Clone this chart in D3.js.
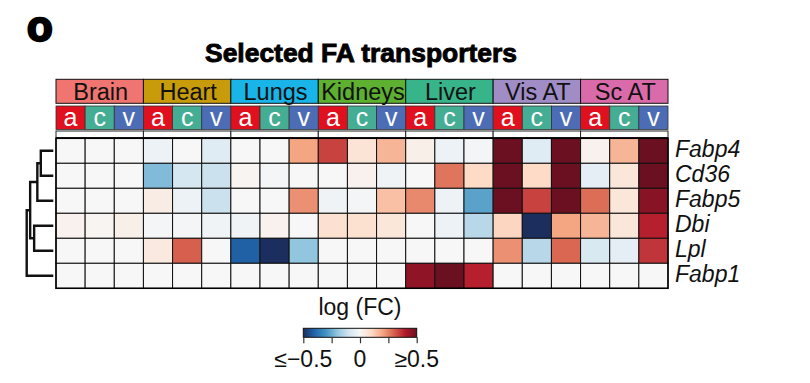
<!DOCTYPE html>
<html>
<head>
<meta charset="utf-8">
<script src="https://cdn.jsdelivr.net/npm/d3@7"></script>
<style>
  body { margin: 0; background: #fff; }
  text { font-family: "Liberation Sans", Arial, sans-serif; }
</style>
</head>
<body>
<div id="chart"></div>
<script>
// tissues, sampling sites and genes
var tissues = ["Brain", "Heart", "Lungs", "Kidneys", "Liver", "Vis AT", "Sc AT"];
var sites = ["a", "c", "v"];
var genes = ["Fabp4", "Cd36", "Fabp5", "Dbi", "Lpl", "Fabp1"];

// log(FC) per gene, 21 columns = tissue x site (a, c, v)
var fabp4 = [0, 0, 0, -0.03, 0, -0.06, 0, 0, 0.2, 0.34, 0.07, 0.17, 0.03, -0.03, -0.01, 0.5, -0.06, 0.5, 0.02, 0.17, 0.5];
var cd36  = [0, 0, 0, -0.22, -0.09, -0.11, 0.01, -0.01, 0, 0, 0.02, -0.02, 0, 0.27, 0.1, 0.5, 0.1, 0.5, -0.05, 0.06, 0.5];
var fabp5 = [0, 0, 0, 0.04, -0.03, -0.11, 0, 0, 0.23, -0.02, -0.01, 0.15, 0.24, -0.03, -0.27, 0.5, 0.34, 0.5, 0.28, 0.06, 0.46];
var dbi   = [0.02, 0.01, 0.03, -0.01, -0.01, -0.02, -0.02, 0.02, 0, 0.08, 0.08, 0.06, 0, -0.03, -0.14, 0.11, -0.5, 0.2, 0.17, 0.06, 0.39];
var lpl   = [0, 0, 0, 0.05, 0.3, 0, -0.41, -0.5, -0.2, 0, 0, 0, 0, 0, 0, 0.23, -0.14, 0.29, -0.08, -0.05, 0.36];
var fabp1 = [0, 0, 0, 0, 0, 0, 0, 0, 0, 0, 0, 0, 0.45, 0.5, 0.39, 0, 0, 0, 0, 0, 0];
var values = [fabp4, cd36, fabp5, dbi, lpl, fabp1];

// dendrogram merges: [left, right, height]
var merges = [
  ["Fabp4", "Cd36", 0.47],
  ["m0", "Fabp5", 0.6],
  ["Dbi", "Lpl", 0.72],
  ["m1", "m2", 0.87],
  ["m3", "Fabp1", 1.0]
];

var legendTicks = [-0.5, -0.25, 0, 0.25, 0.5];
var legendLabels = ["\u2264\u22120.5", "0", "\u22650.5"];

var svgWidth = 810;
var svgHeight = 383;

var svg = d3.select("#chart")
  .append("svg")
  .attr("width", svgWidth)
  .attr("height", svgHeight);

var columns = [];
tissues.forEach(function(t) {
  sites.forEach(function(s) { columns.push(t + "|" + s); });
});

var cells = [];
values.forEach(function(row, i) {
  row.forEach(function(v, j) {
    cells.push({gene: genes[i], col: columns[j], value: v});
  });
});

var x = d3.scaleBand().domain(columns).range([56, 668]);
var xTissue = d3.scaleBand().domain(tissues).range([56, 668]);
var y = d3.scaleBand().domain(genes).range([138.3, 288.3]);

// blue - white - red, neutral grey in the middle, slightly softer ends
var rdbuColors = d3.schemeRdBu[11].slice().reverse();
rdbuColors[0] = "#1b2e5e";
rdbuColors[10] = "#6a1020";
var color = d3.scaleSequential(d3.piecewise(d3.interpolateRgb, rdbuColors))
  .domain([-0.5, 0.5])
  .clamp(true);

var tissueColor = d3.scaleOrdinal()
  .domain(tissues)
  .range(["#f07570", "#c89b0a", "#19b4e8", "#5db030", "#38b48a", "#a08dc6", "#da6baa"]);
var siteColor = d3.scaleOrdinal()
  .domain(sites)
  .range(["#e0101e", "#45ad93", "#4c6db5"]);

// panel letter and title
svg.append("text")
  .attr("x", 27)
  .attr("y", 41)
  .attr("font-size", "42px")
  .attr("font-weight", 700)
  .attr("stroke", "#000")
  .attr("stroke-width", 2.4)
  .text("o");

svg.append("text")
  .attr("x", 361)
  .attr("y", 62)
  .attr("text-anchor", "middle")
  .attr("font-size", "26px")
  .attr("font-weight", 700)
  .attr("stroke", "#000")
  .attr("stroke-width", 0.9)
  .attr("textLength", 312)
  .attr("lengthAdjust", "spacingAndGlyphs")
  .text("Selected FA transporters");

// tissue header
var tissueG = svg.append("g");
tissueG.selectAll("rect")
  .data(tissues)
  .enter()
  .append("rect")
  .attr("x", d => xTissue(d))
  .attr("y", 79.3)
  .attr("width", xTissue.bandwidth())
  .attr("height", 24)
  .attr("fill", d => tissueColor(d))
  .attr("stroke", "#111")
  .attr("stroke-width", 1);

tissueG.selectAll("text")
  .data(tissues)
  .enter()
  .append("text")
  .attr("x", d => xTissue(d) + xTissue.bandwidth() / 2 + 1)
  .attr("y", 99.5)
  .attr("text-anchor", "middle")
  .attr("font-size", "23.5px")
  .attr("fill", "#111")
  .text(d => d);

// site header
var siteG = svg.append("g");
siteG.selectAll("rect")
  .data(columns)
  .enter()
  .append("rect")
  .attr("x", d => x(d))
  .attr("y", 106)
  .attr("width", x.bandwidth())
  .attr("height", 23.5)
  .attr("fill", d => siteColor(d.split("|")[1]))
  .attr("stroke", "#333")
  .attr("stroke-width", 0.8);

siteG.selectAll("text")
  .data(columns)
  .enter()
  .append("text")
  .attr("x", d => x(d) + x.bandwidth() / 2)
  .attr("y", 126)
  .attr("text-anchor", "middle")
  .attr("font-size", "25px")
  .attr("fill", "#fff")
  .text(d => d.split("|")[1]);

// blank separator strip
svg.append("g").selectAll("rect")
  .data(tissues)
  .enter()
  .append("rect")
  .attr("x", d => xTissue(d))
  .attr("y", 131)
  .attr("width", xTissue.bandwidth())
  .attr("height", 6.5)
  .attr("fill", "#fff")
  .attr("stroke", "#222")
  .attr("stroke-width", 1);

// heatmap cells
svg.append("g").selectAll("rect")
  .data(cells)
  .enter()
  .append("rect")
  .attr("x", d => x(d.col))
  .attr("y", d => y(d.gene))
  .attr("width", x.bandwidth())
  .attr("height", y.bandwidth())
  .attr("fill", d => color(d.value))
  .attr("stroke", "#111")
  .attr("stroke-width", 1);

svg.append("rect")
  .attr("x", 56)
  .attr("y", 138.3)
  .attr("width", 612)
  .attr("height", 150)
  .attr("fill", "none")
  .attr("stroke", "#000")
  .attr("stroke-width", 1.5);

// gene labels
svg.append("g").selectAll("text")
  .data(genes)
  .enter()
  .append("text")
  .attr("x", 675)
  .attr("y", d => y(d) + y.bandwidth() / 2 + 6)
  .attr("font-size", "23px")
  .attr("font-style", "italic")
  .attr("fill", "#111")
  .text(d => d);

// dendrogram
var xDend = d3.scaleLinear().domain([0, 1]).range([53.3, 26.7]);
var nodes = {};
genes.forEach(function(g) {
  nodes[g] = {y: y(g) + y.bandwidth() / 2, h: 0};
});
var dendLines = [];
merges.forEach(function(m, i) {
  var a = nodes[m[0]], b = nodes[m[1]];
  dendLines.push([[xDend(a.h), a.y], [xDend(m[2]), a.y], [xDend(m[2]), b.y], [xDend(b.h), b.y]]);
  nodes["m" + i] = {y: (a.y + b.y) / 2, h: m[2]};
});

svg.append("g").selectAll("path")
  .data(dendLines)
  .enter()
  .append("path")
  .attr("d", d3.line())
  .attr("fill", "none")
  .attr("stroke", "#111")
  .attr("stroke-width", 2.4);

// colour legend
var legendX = d3.scaleLinear().domain([-0.5, 0.5]).range([303.3, 416.7]);

svg.append("text")
  .attr("x", 360)
  .attr("y", 315)
  .attr("text-anchor", "middle")
  .attr("font-size", "23px")
  .attr("fill", "#111")
  .text("log (FC)");

var grad = svg.append("defs")
  .append("linearGradient")
  .attr("id", "fcGrad");
grad.selectAll("stop")
  .data(d3.range(0, 1.001, 0.05))
  .enter()
  .append("stop")
  .attr("offset", d => d)
  .attr("stop-color", d => color(-0.5 + d));

svg.append("rect")
  .attr("x", 303.3)
  .attr("y", 328.3)
  .attr("width", 113.4)
  .attr("height", 9)
  .attr("fill", "url(#fcGrad)")
  .attr("stroke", "#111")
  .attr("stroke-width", 1);

var legendAxis = svg.append("g")
  .attr("transform", "translate(0, 337.3)")
  .call(d3.axisBottom(legendX).tickValues(legendTicks).tickSize(6).tickFormat(""));
legendAxis.select(".domain").remove();
legendAxis.selectAll("line").attr("stroke", "#333").attr("stroke-width", 1.2);

svg.append("g").selectAll("text")
  .data([-0.5, 0, 0.5])
  .enter()
  .append("text")
  .attr("x", d => legendX(d))
  .attr("y", 367)
  .attr("text-anchor", "middle")
  .attr("font-size", "23px")
  .attr("fill", "#111")
  .text((d, i) => legendLabels[i]);
</script>
</body>
</html>
